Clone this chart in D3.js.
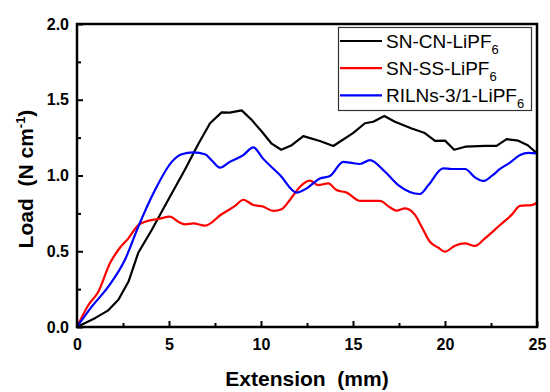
<!DOCTYPE html>
<html>
<head>
<meta charset="utf-8">
<script src="https://cdn.jsdelivr.net/npm/d3@7"></script>
<style>
  body { margin: 0; background: #fff; }
  svg { display: block; font-family: Arial, "Liberation Sans", sans-serif; }
</style>
</head>
<body>
<svg id="mainsvg" width="550" height="392"></svg>
<script>
// extension (mm) / load (N cm-1)
var cnX = [0, 1.0, 1.7, 2.25, 2.8, 3.33, 4.06, 4.96, 5.87, 6.6, 7.23, 7.86, 8.3, 8.95, 9.5, 10.04, 10.58, 11.1, 11.67, 12.3, 13.2, 13.93, 15.0, 15.65, 16.1, 16.7, 17.28, 18.19, 18.9, 19.46, 20.0, 20.5, 21.1, 22.2, 22.8, 23.35, 23.98, 24.5, 25.0];
var cnY = [0, 0.06, 0.11, 0.18, 0.30, 0.49, 0.64, 0.84, 1.04, 1.21, 1.345, 1.417, 1.415, 1.43, 1.366, 1.29, 1.21, 1.17, 1.20, 1.26, 1.228, 1.195, 1.28, 1.345, 1.355, 1.393, 1.355, 1.31, 1.28, 1.228, 1.23, 1.17, 1.19, 1.195, 1.195, 1.24, 1.23, 1.20, 1.146];

var ssX = [0, 0.62, 1.16, 1.79, 2.25, 2.79, 3.33, 3.7, 4.42, 5.05, 5.5, 5.87, 6.32, 6.96, 7.86, 8.59, 9.04, 9.58, 10.1, 10.67, 11.12, 11.58, 12.12, 12.66, 13.1, 13.66, 14.1, 14.66, 15.4, 16.47, 17.0, 17.37, 17.83, 18.37, 18.73, 19.18, 19.64, 20.0, 20.54, 21.09, 21.63, 22.17, 22.99, 23.62, 24.08, 24.71, 25.0];
var ssY = [0, 0.145, 0.233, 0.42, 0.51, 0.585, 0.673, 0.695, 0.713, 0.728, 0.695, 0.678, 0.684, 0.669, 0.744, 0.80, 0.84, 0.805, 0.795, 0.766, 0.777, 0.84, 0.926, 0.966, 0.937, 0.948, 0.904, 0.887, 0.832, 0.832, 0.79, 0.768, 0.783, 0.74, 0.662, 0.563, 0.523, 0.497, 0.537, 0.552, 0.535, 0.585, 0.673, 0.74, 0.80, 0.805, 0.82];

var rilX = [0, 0.8, 1.7, 2.6, 3.33, 4.24, 5.15, 5.69, 6.32, 6.96, 7.32, 7.77, 8.3, 9.04, 9.58, 10.1, 11.03, 11.94, 12.48, 13.2, 13.75, 14.47, 14.84, 15.38, 15.92, 16.74, 17.46, 18.64, 19.1, 19.9, 20.36, 21.09, 21.63, 22.08, 22.54, 22.99, 23.53, 24.08, 24.53, 25.0];
var rilY = [0, 0.134, 0.266, 0.442, 0.662, 0.904, 1.09, 1.14, 1.153, 1.14, 1.10, 1.052, 1.09, 1.135, 1.186, 1.113, 1.003, 0.887, 0.915, 0.98, 0.997, 1.09, 1.085, 1.076, 1.102, 1.025, 0.937, 0.878, 0.937, 1.047, 1.043, 1.043, 0.988, 0.964, 0.997, 1.043, 1.085, 1.135, 1.15, 1.146];

var seriesNames = ["SN-CN-LiPF", "SN-SS-LiPF", "RILNs-3/1-LiPF"];
var seriesColors = ["#000000", "#ff0000", "#0000ff"];
var xTicks = [0, 5, 10, 15, 20, 25];
var yTicks = [0, 0.5, 1.0, 1.5, 2.0];

var margin = { top: 24, right: 13, bottom: 65, left: 77 };
var W = 550, H = 392;
var svg = d3.select("#mainsvg");

var x = d3.scaleLinear().domain([0, 25]).range([margin.left, W - margin.right]);
var y = d3.scaleLinear().domain([0, 2]).range([H - margin.bottom, margin.top]);

function zip(xs, ys) {
  return xs.map(function (v, i) { return [v, ys[i]]; });
}
var series = [zip(cnX, cnY), zip(ssX, ssY), zip(rilX, rilY)];
var curves = [d3.curveLinear, d3.curveMonotoneX, d3.curveMonotoneX];

// curves
series.forEach(function (s, i) {
  var line = d3.line()
    .x(function (d) { return x(d[0]); })
    .y(function (d) { return y(d[1]); })
    .curve(curves[i]);
  svg.append("path")
    .attr("d", line(s))
    .attr("fill", "none")
    .attr("stroke", seriesColors[i])
    .attr("stroke-width", 2.2)
    .attr("stroke-linejoin", "round");
});

// axes, ticks inward
var xMinor = d3.range(2.5, 25, 5);
var yMinor = d3.range(0.25, 2, 0.5);

var gx = svg.append("g").attr("transform", "translate(0," + y(0) + ")");
gx.call(d3.axisBottom(x).tickValues(xTicks).tickSize(-6).tickPadding(12).tickFormat(d3.format("d")));
var gxm = svg.append("g").attr("transform", "translate(0," + y(0) + ")");
gxm.call(d3.axisBottom(x).tickValues(xMinor).tickSize(-4).tickFormat(""));

var gy = svg.append("g").attr("transform", "translate(" + x(0) + ",0)");
gy.call(d3.axisLeft(y).tickValues(yTicks).tickSize(-6).tickPadding(8).tickFormat(d3.format(".1f")));
var gym = svg.append("g").attr("transform", "translate(" + x(0) + ",0)");
gym.call(d3.axisLeft(y).tickValues(yMinor).tickSize(-4).tickFormat(""));

[gx, gxm, gy, gym].forEach(function (g) {
  g.select(".domain").remove();
  g.selectAll(".tick line").attr("stroke", "#000").attr("stroke-width", 2);
  g.selectAll("text")
    .attr("font-size", 16)
    .attr("font-weight", "bold")
    .attr("fill", "#000")
    .style("font-family", "Arial, 'Liberation Sans', sans-serif");
});

// frame
svg.append("rect")
  .attr("x", x(0))
  .attr("y", y(2))
  .attr("width", x(25) - x(0))
  .attr("height", y(0) - y(2))
  .attr("fill", "none")
  .attr("stroke", "#000")
  .attr("stroke-width", 2.5);

// axis titles
svg.append("text")
  .attr("x", (x(0) + x(25)) / 2)
  .attr("y", 386)
  .attr("text-anchor", "middle")
  .attr("font-size", 21)
  .attr("font-weight", "bold")
  .attr("xml:space", "preserve")
  .text("Extension  (mm)");

var yt = svg.append("text")
  .attr("transform", "translate(33," + 179 + ") rotate(-90)")
  .attr("text-anchor", "middle")
  .attr("font-size", 21)
  .attr("font-weight", "bold")
  .attr("xml:space", "preserve");
yt.append("tspan").text("Load  (N cm");
yt.append("tspan").attr("font-size", 13).attr("dy", -8).text("-1");
yt.append("tspan").attr("dy", 8).text(")");

// legend
var leg = svg.append("g");
leg.append("rect")
  .attr("x", 338.5)
  .attr("y", 27.5)
  .attr("width", 193)
  .attr("height", 83)
  .attr("fill", "#fff")
  .attr("stroke", "#333")
  .attr("stroke-width", 1.2);
seriesNames.forEach(function (name, i) {
  var ly = 41 + i * 27.2;
  leg.append("line")
    .attr("x1", 340).attr("x2", 382)
    .attr("y1", ly).attr("y2", ly)
    .attr("stroke", seriesColors[i])
    .attr("stroke-width", 2.2);
  var t = leg.append("text")
    .attr("x", 386)
    .attr("y", ly + 6.5)
    .attr("font-size", 19)
    .attr("fill", "#000");
  t.append("tspan").text(name);
  t.append("tspan").attr("font-size", 13).attr("dy", 6).text("6");
});
</script>
</body>
</html>
